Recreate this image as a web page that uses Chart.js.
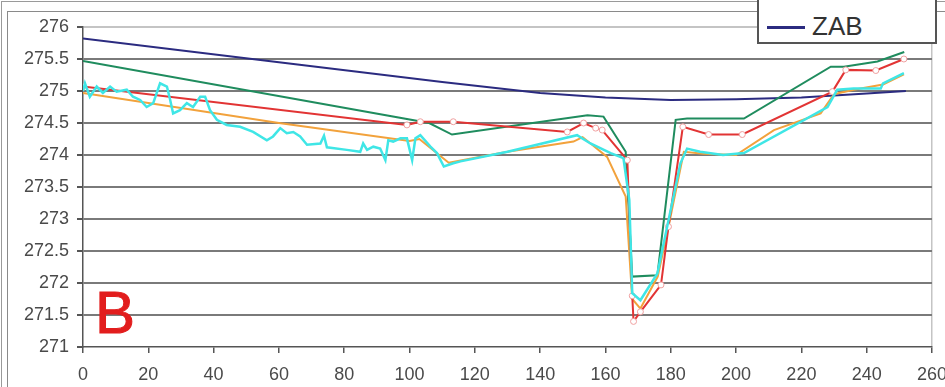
<!DOCTYPE html>
<html>
<head>
<meta charset="utf-8">
<script src="https://cdn.jsdelivr.net/npm/chart.js@4/dist/chart.umd.min.js"></script>
<style>
  html, body { margin: 0; padding: 0; background: #fff; }
  #wrap { position: relative; width: 945px; height: 387px; overflow: hidden; background: #fff; }
  #outer { position: absolute; left: 1px; top: 1px; width: 1000px; height: 500px; border-left: 1px solid #9a9a9a; border-top: 1px solid #9a9a9a; }
  #inner { position: absolute; left: 7px; top: 11px; width: 1000px; height: 500px; border-left: 1px solid #8a8a8a; border-top: 1px solid #8a8a8a; }
  #c { position: absolute; left: 0; top: 0; }
  #legend { position: absolute; left: 757px; top: -12px; width: 176px; height: 52px; border: 2px solid #555; background: #fff; }
  #legend .sw { position: absolute; left: 8px; top: 36px; width: 38px; height: 3px; background: #2b2b80; }
  #legend .tx { position: absolute; left: 53px; top: 22px; font: 26px "Liberation Sans", Arial, sans-serif; color: #333; line-height: 28px; }
  #bmark { position: absolute; left: 95px; top: 283px; font: 60px "Liberation Sans", Arial, sans-serif; color: #e21d1d; line-height: 60px; -webkit-text-stroke: 1px #e21d1d; }
</style>
</head>
<body>
<div id="wrap">
  <div id="outer"></div>
  <div id="inner"></div>
  <canvas id="c" width="945" height="387"></canvas>
  <div id="legend"><div class="sw"></div><div class="tx">ZAB</div></div>
  <div id="bmark">B</div>
</div>
<script>
// ---- data ----
const xTickValues = [0, 20, 40, 60, 80, 100, 120, 140, 160, 180, 200, 220, 240, 260];
const yTickValues = [271, 271.5, 272, 272.5, 273, 273.5, 274, 274.5, 275, 275.5, 276];

const zabX = [0, 60, 110, 140, 160, 180, 200, 220, 240, 252];
const zabY = [275.82, 275.45, 275.14, 274.97, 274.9, 274.86, 274.87, 274.9, 274.96, 275.0];

const greenX = [0, 106, 113, 135, 154.5, 159.4, 166.2, 168.2, 175.9, 181.5, 185, 202.4, 229, 233, 243.3, 251.5];
const greenY = [275.47, 274.5, 274.32, 274.48, 274.62, 274.6, 274.05, 272.1, 272.12, 274.55, 274.57, 274.57, 275.38, 275.38, 275.46, 275.61];

const redX = [0, 99.2, 103.3, 113.4, 148.3, 153.3, 157, 159, 166.7, 168.2, 168.6, 170.7, 177, 179.3, 183.7, 191.6, 201.9, 229.5, 233.6, 242.8, 251.4];
const redY = [275.07, 274.47, 274.52, 274.52, 274.36, 274.5, 274.42, 274.39, 273.92, 271.8, 271.4, 271.55, 271.97, 272.88, 274.44, 274.32, 274.32, 274.99, 275.33, 275.32, 275.5];

const orangeX = [0, 60, 100, 103, 112, 130, 150.2, 153, 160.5, 166.2, 168.2, 170.7, 176, 179.3, 184, 190, 200, 211.6, 225.9, 230, 236, 245, 251.4];
const orangeY = [274.97, 274.5, 274.22, 274.25, 273.88, 274.05, 274.21, 274.28, 273.97, 273.35, 271.75, 271.6, 272.1, 272.88, 274.05, 274.02, 274.0, 274.39, 274.65, 274.95, 275.02, 275.1, 275.26];

const cyanX = [0, 0.6, 2.1, 4.2, 6.1, 8.3, 10.3, 13.4, 15.3, 17.5, 19.5, 21.5, 23.6, 25.7, 26.7, 27.6, 29.7, 31.8, 33.7, 35.9, 37.4, 38.9, 41, 44, 48.1, 52.1, 56.3, 58.2, 60.4, 62.4, 64.4, 66.5, 68.6, 72.7, 73.8, 74.7, 80.8, 84.9, 85.8, 87, 88.9, 91, 92.6, 93.5, 95, 97.2, 99.2, 100.8, 101.8, 103.3, 106.4, 108.4, 110.5, 113.4, 115.6, 130, 151.3, 155.4, 161.6, 165.5, 167.3, 168.2, 170.7, 175.9, 182.96, 185, 189, 196, 202.4, 228, 231, 236, 244.3, 245, 251.4];
const cyanY = [275.0, 275.12, 274.91, 275.07, 274.97, 275.07, 274.99, 275.02, 274.91, 274.86, 274.75, 274.81, 275.12, 275.07, 274.86, 274.65, 274.7, 274.81, 274.75, 274.91, 274.91, 274.7, 274.55, 274.47, 274.44, 274.36, 274.23, 274.29, 274.42, 274.34, 274.36, 274.29, 274.16, 274.18, 274.3, 274.12, 274.08, 274.05, 274.18, 274.08, 274.13, 274.1, 273.92, 274.23, 274.21, 274.26, 274.26, 273.92, 274.26, 274.31, 274.13, 274.03, 273.82, 273.87, 273.9, 274.05, 274.31, 274.18, 274.03, 273.95, 273.3, 271.84, 271.73, 272.15, 273.87, 274.1, 274.05, 274.0, 274.03, 274.75, 275.02, 275.04, 275.04, 275.12, 275.28];

function pts(xs, ys) { return xs.map((x, i) => ({ x: x, y: ys[i] })); }

const FONT = '"Liberation Sans", Arial, sans-serif';

new Chart(document.getElementById('c'), {
  type: 'line',
  data: {
    datasets: [
      { label: 'Cyan', data: pts(cyanX, cyanY), borderColor: '#3fe6e6', borderWidth: 2.5, pointRadius: 0, tension: 0 },
      { label: 'Red', data: pts(redX, redY), borderColor: '#e23434', borderWidth: 2, pointRadius: 3, pointBorderColor: '#f0a0a0', pointBackgroundColor: '#ffffff', pointBorderWidth: 1, tension: 0 },
      { label: 'Orange', data: pts(orangeX, orangeY), borderColor: '#f2a23c', borderWidth: 2, pointRadius: 0, tension: 0 },
      { label: 'Green', data: pts(greenX, greenY), borderColor: '#1f8c5e', borderWidth: 2, pointRadius: 0, tension: 0 },
      { label: 'ZAB', data: pts(zabX, zabY), borderColor: '#2b2b80', borderWidth: 2, pointRadius: 0, tension: 0 }
    ]
  },
  options: {
    responsive: false,
    animation: false,
    events: [],
    layout: { padding: { left: 0, right: 13, top: 27, bottom: 0 } },
    plugins: { legend: { display: false }, tooltip: { enabled: false } },
    scales: {
      x: {
        type: 'linear', min: 0, max: 260,
        afterBuildTicks: s => { s.ticks = xTickValues.map(v => ({ value: v })); },
        afterFit: s => { s.height = 40; s.paddingLeft = 0; s.paddingRight = 0; },
        ticks: { font: { family: FONT, size: 18 }, color: '#4a4a4a', padding: 11, maxRotation: 0, autoSkip: false, callback: v => String(v) },
        grid: {
          drawOnChartArea: true,
          color: c => (c.tick && c.tick.value === 260) ? '#c4c4c4' : 'rgba(0,0,0,0)',
          tickColor: '#555', tickLength: 6, lineWidth: 1.5
        },
        border: { color: '#555', width: 1.5 }
      },
      y: {
        type: 'linear', min: 271, max: 276,
        afterBuildTicks: s => { s.ticks = yTickValues.map(v => ({ value: v })); },
        afterFit: s => { s.width = 83; },
        ticks: { font: { family: FONT, size: 18 }, color: '#4a4a4a', padding: 8, autoSkip: false, callback: v => String(v) },
        grid: {
          color: c => (c.tick && c.tick.value === 276) ? '#c4c4c4' : (c.tick && c.tick.value === 271 ? 'rgba(0,0,0,0)' : '#7a7a7a'),
          tickColor: '#555', tickLength: 6, lineWidth: 2
        },
        border: { color: '#555', width: 1.5 }
      }
    }
  }
});
</script>
</body>
</html>
